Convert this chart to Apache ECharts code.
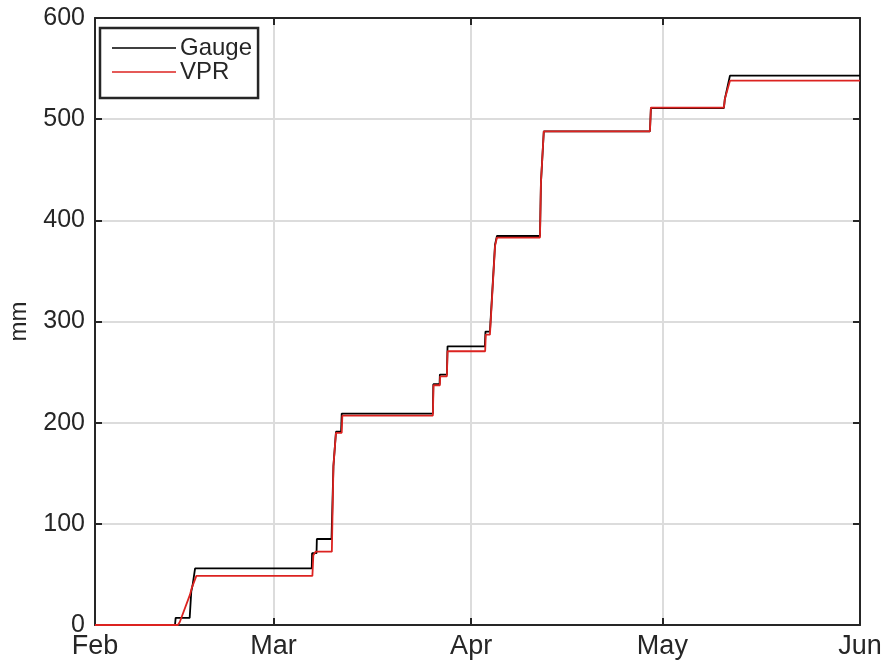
<!DOCTYPE html>
<html>
<head>
<meta charset="utf-8">
<script src="https://cdn.jsdelivr.net/npm/echarts@6/dist/echarts.min.js"></script>
<style>
  html, body { margin: 0; padding: 0; background: #fff; }
  #chart { width: 881px; height: 664px; }
</style>
</head>
<body>
<div id="chart"></div>
<script>
// Cumulative rainfall (mm), days counted from 1 February.
const gaugeDays = [0, 12.55, 12.65, 14.85, 15.1, 15.3, 15.7, 34.0, 34.05, 34.75, 34.8, 37.1, 37.4, 37.8, 38.6, 38.7,
  53.0, 53.07, 54.05, 54.1, 55.2, 55.3, 61.15, 61.25, 61.95, 62.75, 63.05, 69.8, 69.95, 70.4, 87.05, 87.2,
  98.65, 98.8, 99.6, 120];
const gaugeMm = [0, 0, 7, 7, 33, 39, 56, 56, 71, 71, 85, 85, 157, 191, 191, 209,
  209, 238, 238, 247.5, 247.5, 275.5, 275.5, 290, 290, 376, 384.5, 384.5, 437, 488, 488, 511,
  511, 520, 543, 543];

const vprDays = [0, 13.0, 13.3, 14.9, 15.2, 15.9, 34.1, 34.25, 34.6, 37.15, 37.4, 37.8, 38.7, 38.8,
  53.0, 53.1, 54.1, 54.15, 55.2, 55.3, 61.2, 61.3, 61.95, 62.75, 63.05, 69.8, 69.95, 70.4, 87.05, 87.2,
  98.65, 98.8, 99.6, 120];
const vprMm = [0, 0, 3, 30, 37, 48.5, 48.5, 69, 72.5, 72.5, 157, 190, 190, 207,
  207, 237, 237, 245.8, 245.8, 270.6, 270.6, 287, 287, 374.5, 383, 383, 437, 488, 488, 511.5,
  511.5, 520, 538, 538];

const seriesNames = ['Gauge', 'VPR'];
const yTicks = { min: 0, max: 600, step: 100 };

const DAY = 86400000;
const start = Date.UTC(2017, 1, 1);
const end = Date.UTC(2017, 5, 1);
const toPairs = (days, vals) => days.map((d, i) => [start + d * DAY, vals[i]]);

const ink = '#262626';
const font = 'Liberation Sans, Helvetica, Arial, sans-serif';

const chart = echarts.init(document.getElementById('chart'), null, { renderer: 'canvas' });

const frameAxis = {
  axisLine: { show: true, onZero: false, lineStyle: { color: ink, width: 2 } },
  axisTick: { show: true, inside: true, length: 7, lineStyle: { color: ink, width: 2 } }
};

chart.setOption({
  useUTC: true,
  animation: false,
  backgroundColor: '#fff',
  grid: { left: 95, right: 21, top: 18, bottom: 39, containLabel: false, outerBoundsMode: 'none' },
  legend: {
    orient: 'vertical',
    left: 100, top: 28,
    data: seriesNames,
    icon: 'rect',
    backgroundColor: '#fff',
    borderColor: ink, borderWidth: 2.5, borderRadius: 0,
    padding: [8, 6, 14, 12],
    itemWidth: 64, itemHeight: 1.6, itemGap: 0,
    textStyle: { fontFamily: font, fontSize: 24, lineHeight: 22, color: ink, padding: [0, 0, 0, -1] }
  },
  xAxis: [{
    type: 'time',
    min: start, max: end,
    minInterval: 28 * DAY,
    maxInterval: 31 * DAY,
    ...frameAxis,
    axisLabel: {
      color: ink, fontFamily: font, fontSize: 27, margin: 8,
      formatter: '{MMM}', showMinLabel: true, showMaxLabel: true
    },
    splitLine: { show: true, lineStyle: { color: '#dcdcdc', width: 2 } }
  }, {
    type: 'time', position: 'top',
    min: start, max: end,
    minInterval: 28 * DAY, maxInterval: 31 * DAY,
    ...frameAxis,
    axisLabel: { show: false },
    splitLine: { show: false }
  }],
  yAxis: [{
    type: 'value',
    min: yTicks.min, max: yTicks.max, interval: yTicks.step,
    name: 'mm', nameLocation: 'middle', nameGap: 64,
    nameTextStyle: { fontFamily: font, fontSize: 24, color: ink },
    ...frameAxis,
    axisLabel: { color: ink, fontFamily: font, fontSize: 25, margin: 10 },
    splitLine: { show: true, lineStyle: { color: '#dcdcdc', width: 2 } }
  }, {
    type: 'value', position: 'right',
    min: yTicks.min, max: yTicks.max, interval: yTicks.step,
    ...frameAxis,
    axisLabel: { show: false },
    splitLine: { show: false }
  }],
  series: [{
    name: seriesNames[0],
    type: 'line',
    symbol: 'none',
    data: toPairs(gaugeDays, gaugeMm),
    lineStyle: { color: '#000', width: 1.8 },
    itemStyle: { color: '#000' },
    z: 3
  }, {
    name: seriesNames[1],
    type: 'line',
    symbol: 'none',
    data: toPairs(vprDays, vprMm),
    lineStyle: { color: '#dc2320', width: 1.8 },
    itemStyle: { color: '#dc2320' },
    z: 4
  }]
});
</script>
</body>
</html>
